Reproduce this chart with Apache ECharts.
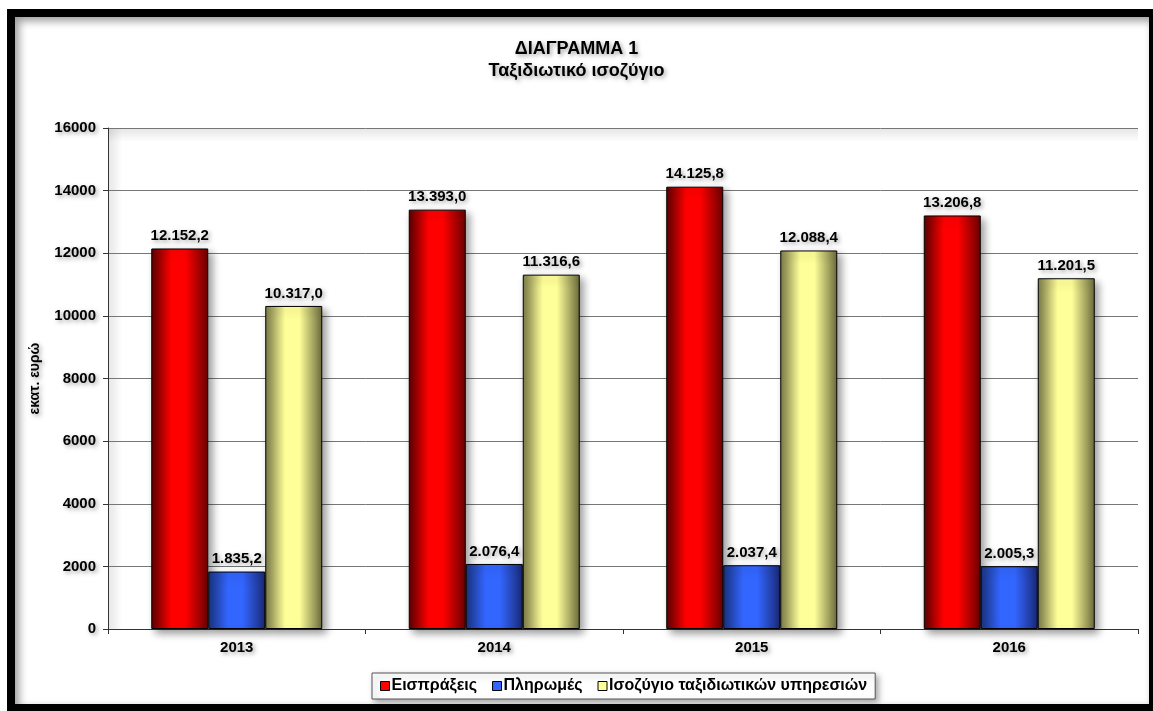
<!DOCTYPE html>
<html>
<head>
<meta charset="utf-8">
<script src="https://cdn.jsdelivr.net/npm/echarts@6/dist/echarts.min.js"></script>
<style>
  html, body { margin: 0; padding: 0; width: 1153px; height: 711px; overflow: hidden; background: #fff; }
  #frame {
    position: absolute; left: 7px; top: 9px; width: 1134px; height: 687px;
    border: 8px solid #000; box-shadow: inset 4px 4px 9px rgba(0,0,0,0.4);
    background: #fff;
  }
  #chart { position: absolute; left: 0; top: 0; width: 1153px; height: 711px; }
</style>
</head>
<body>
<div id="frame"></div>
<div id="chart"></div>
<script>
// Travel balance, millions of euro
const years = ['2013', '2014', '2015', '2016'];
const receipts = [12152.2, 13393.0, 14125.8, 13206.8];
const payments = [1835.2, 2076.4, 2037.4, 2005.3];
const balance = [10317.0, 11316.6, 12088.4, 11201.5];
const seriesNames = ['Εισπράξεις', 'Πληρωμές', 'Ισοζύγιο ταξιδιωτικών υπηρεσιών'];

const FONT = 'Arial, "Liberation Sans", sans-serif';
const GRID = { left: 108, right: 15, top: 128, bottom: 82 };

// Greek number format: thousands with '.', decimals with ','
function fmt(v) {
  const parts = v.toFixed(1).split('.');
  return parts[0].replace(/\B(?=(\d{3})+(?!\d))/g, '.') + ',' + parts[1];
}

function barGrad(edgeL, mid, edgeR) {
  return new echarts.graphic.LinearGradient(0, 0, 1, 0, [
    { offset: 0, color: edgeL },
    { offset: 0.35, color: mid },
    { offset: 0.6, color: mid },
    { offset: 1, color: edgeR }
  ]);
}

const fills = [
  barGrad('#5c0000', '#ff0000', '#6a0000'),
  barGrad('#1a3380', '#3366ff', '#1a2a78'),
  barGrad('#7a7a48', '#ffff99', '#6a6a3c')
];
const flat = ['#ff0000', '#3366ff', '#ffff99'];
const values = [receipts, payments, balance];

const shadowText = {
  textShadowColor: 'rgba(0,0,0,0.35)', textShadowBlur: 4, textShadowOffsetX: 2, textShadowOffsetY: 2
};

const chart = echarts.init(document.getElementById('chart'), null, { renderer: 'canvas' });
const W = chart.getWidth(), H = chart.getHeight();

chart.setOption({
  animation: false,
  backgroundColor: 'transparent',
  title: {
    text: 'ΔΙΑΓΡΑΜΜΑ 1\nΤαξιδιωτικό ισοζύγιο',
    left: 'center',
    top: 33,
    textStyle: Object.assign({
      fontFamily: FONT, fontWeight: 'bold', fontSize: 18, color: '#000', lineHeight: 22
    }, shadowText)
  },
  // soft shading along the top and left inner edges of the plot area
  graphic: [
    {
      type: 'rect', silent: true, z: -1,
      shape: { x: GRID.left, y: GRID.top, width: W - GRID.left - GRID.right, height: 14 },
      style: { fill: new echarts.graphic.LinearGradient(0, 0, 0, 1, [
        { offset: 0, color: 'rgba(0,0,0,0.10)' }, { offset: 1, color: 'rgba(0,0,0,0)' }]) }
    },
    {
      type: 'rect', silent: true, z: -1,
      shape: { x: GRID.left, y: GRID.top, width: 14, height: H - GRID.top - GRID.bottom },
      style: { fill: new echarts.graphic.LinearGradient(0, 0, 1, 0, [
        { offset: 0, color: 'rgba(0,0,0,0.10)' }, { offset: 1, color: 'rgba(0,0,0,0)' }]) }
    }
  ],
  grid: Object.assign({ containLabel: false }, GRID),
  legend: {
    left: 372,
    top: 673,
    itemWidth: 9,
    itemHeight: 9,
    itemGap: 15,
    padding: [5, 8, 5, 8],
    borderColor: '#555',
    borderWidth: 1,
    backgroundColor: '#fff',
    shadowColor: 'rgba(0,0,0,0.35)', shadowBlur: 6, shadowOffsetX: 3, shadowOffsetY: 3,
    textStyle: { fontFamily: FONT, fontWeight: 'bold', fontSize: 16, color: '#000', padding: [0, 0, 0, -3] },
    data: seriesNames.map((n, i) => ({
      name: n, icon: 'rect',
      itemStyle: { color: flat[i], borderColor: '#000', borderWidth: 1 }
    }))
  },
  xAxis: {
    type: 'category',
    data: years,
    axisLine: { lineStyle: { color: '#333', width: 1 } },
    axisTick: { show: true, alignWithLabel: false, length: 5, lineStyle: { color: '#333' } },
    axisLabel: Object.assign({
      fontFamily: FONT, fontWeight: 'bold', fontSize: 15, color: '#000', margin: 11
    }, shadowText)
  },
  yAxis: {
    type: 'value',
    min: 0, max: 16000, interval: 2000,
    name: 'εκατ. ευρώ',
    nameLocation: 'middle',
    nameRotate: 90,
    nameGap: 66,
    nameTextStyle: Object.assign({
      fontFamily: FONT, fontWeight: 'bold', fontSize: 14, color: '#000'
    }, shadowText),
    axisLine: { show: true, lineStyle: { color: '#333', width: 1 } },
    axisTick: { show: true, length: 5, lineStyle: { color: '#333' } },
    splitLine: { lineStyle: { color: '#777', width: 1 } },
    axisLabel: Object.assign({
      fontFamily: FONT, fontWeight: 'bold', fontSize: 15, color: '#000', margin: 12,
      formatter: v => String(v)
    }, shadowText)
  },
  series: seriesNames.map((n, i) => ({
    name: n,
    type: 'bar',
    data: values[i],
    barWidth: 57,
    barGap: '0%',
    itemStyle: {
      color: fills[i],
      borderColor: '#000',
      borderWidth: 1,
      shadowColor: 'rgba(0,0,0,0.4)', shadowBlur: 8, shadowOffsetX: 4, shadowOffsetY: 4
    },
    label: Object.assign({
      show: true,
      position: 'top',
      distance: 5,
      formatter: p => fmt(p.value),
      fontFamily: FONT, fontWeight: 'bold', fontSize: 15, color: '#000'
    }, shadowText)
  }))
});
</script>
</body>
</html>
